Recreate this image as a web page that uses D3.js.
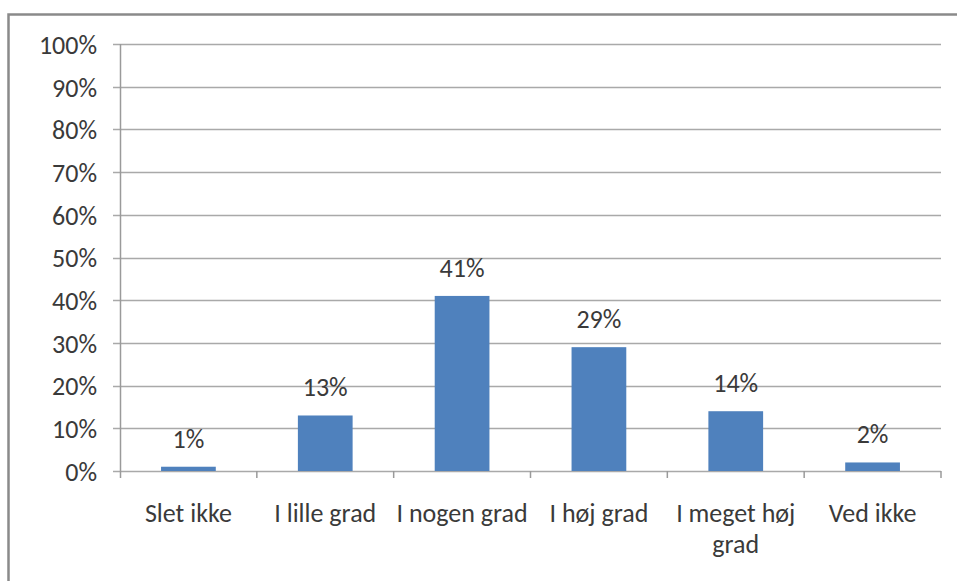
<!DOCTYPE html>
<html>
<head>
<meta charset="utf-8">
<script src="https://cdn.jsdelivr.net/npm/d3@7"></script>
<style>
  html, body { margin: 0; padding: 0; background: #fff; }
  svg { display: block; }
  text { font-family: Carlito, "Liberation Sans", Arial, sans-serif; fill: #3a3a3a; }
</style>
</head>
<body>
<svg id="chart" width="957" height="581"></svg>
<script>
// Response categories and their shares (%)
const categories = ["Slet ikke", "I lille grad", "I nogen grad", "I høj grad", "I meget høj grad", "Ved ikke"];
const values = [1, 13, 41, 29, 14, 2];
const yTicks = [0, 10, 20, 30, 40, 50, 60, 70, 80, 90, 100];

const svg = d3.select("#chart");
const W = 957, H = 581;
const margin = { left: 120, right: 16, top: 44, bottom: 110 };
const plotW = W - margin.left - margin.right;
const plotH = H - margin.top - margin.bottom;
const fontSize = 26;

// Outer chart frame (its right and bottom edges fall outside the canvas)
svg.append("rect")
  .attr("x", 8.5).attr("y", 14.5)
  .attr("width", W + 20).attr("height", H + 20)
  .attr("fill", "#fff")
  .attr("stroke", "#8a8a8a")
  .attr("stroke-width", 2.5);

const x = d3.scaleBand().domain(categories).range([0, plotW]).paddingInner(0.6).paddingOuter(0.3);
const y = d3.scaleLinear().domain([0, 100]).range([plotH, 0]);

const g = svg.append("g").attr("transform", `translate(${margin.left},${margin.top})`);

// Horizontal gridlines with short outward ticks
g.append("g")
  .selectAll("line")
  .data(yTicks)
  .join("line")
  .attr("x1", -7).attr("x2", plotW)
  .attr("y1", d => Math.round(y(d)) + 0.5)
  .attr("y2", d => Math.round(y(d)) + 0.5)
  .attr("stroke", "#a9a9a9")
  .attr("stroke-width", 1.5);

// Y axis labels
const yAxis = d3.axisLeft(y).tickValues(yTicks).tickFormat(d => d + "%").tickSize(0).tickPadding(23);
const ya = g.append("g").call(yAxis);
ya.select(".domain").remove();
ya.selectAll("text")
  .attr("font-size", fontSize)
  .attr("dy", "0.36em")
  .style("font-family", 'Carlito, "Liberation Sans", Arial, sans-serif')
  .style("fill", "#3a3a3a");

// Vertical axis line
g.append("line")
  .attr("x1", 0.5).attr("x2", 0.5)
  .attr("y1", 0).attr("y2", plotH + 7)
  .attr("stroke", "#9a9a9a").attr("stroke-width", 1.5);

// Category boundary ticks below the baseline
const bounds = d3.range(categories.length + 1).map(i => i * plotW / categories.length);
g.append("g").selectAll("line")
  .data(bounds.slice(1))
  .join("line")
  .attr("x1", d => d).attr("x2", d => d)
  .attr("y1", plotH).attr("y2", plotH + 7)
  .attr("stroke", "#9a9a9a").attr("stroke-width", 1.5);

// Bars
g.append("g").selectAll("rect")
  .data(values)
  .join("rect")
  .attr("x", (d, i) => x(categories[i]))
  .attr("width", x.bandwidth())
  .attr("y", d => y(d))
  .attr("height", d => plotH - y(d))
  .attr("fill", "#4f81bd");

// Value labels above bars
g.append("g").selectAll("text")
  .data(values)
  .join("text")
  .attr("x", (d, i) => x(categories[i]) + x.bandwidth() / 2)
  .attr("y", d => y(d) - 19)
  .attr("text-anchor", "middle")
  .attr("font-size", fontSize)
  .text(d => d + "%");

// Category labels, wrapped where they don't fit their slot
const catG = g.append("g").attr("transform", `translate(0,${plotH})`);
categories.forEach((c, i) => {
  const cx = x(c) + x.bandwidth() / 2;
  const lines = c === "I meget høj grad" ? ["I meget høj", "grad"] : [c];
  const t = catG.append("text")
    .attr("text-anchor", "middle")
    .attr("font-size", fontSize);
  lines.forEach((ln, k) => {
    t.append("tspan").attr("x", cx).attr("y", 51 + k * 31).text(ln);
  });
});
</script>
</body>
</html>
